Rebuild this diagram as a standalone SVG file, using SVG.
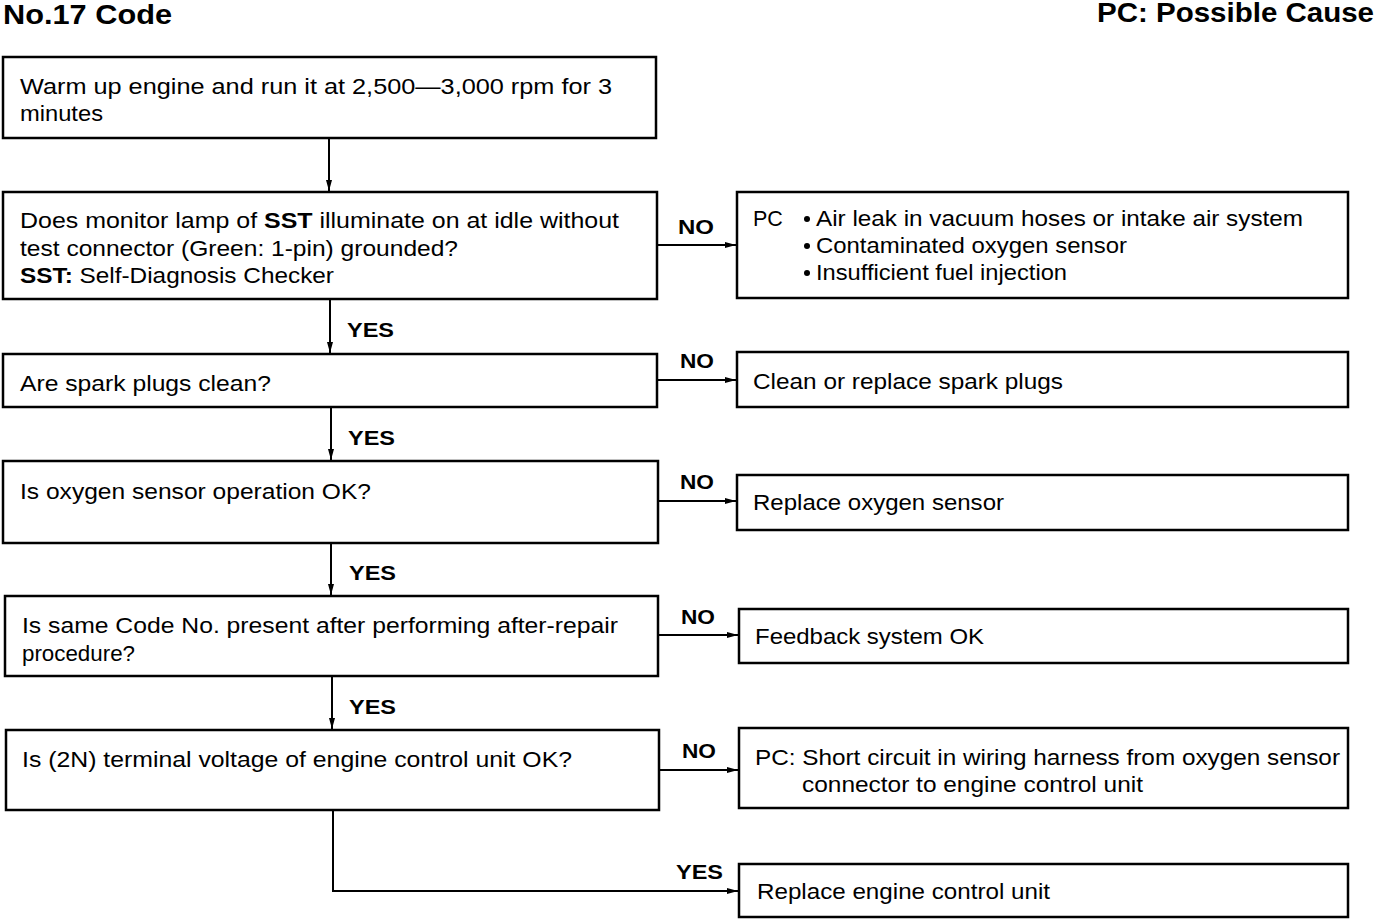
<svg xmlns="http://www.w3.org/2000/svg" width="1392" height="920" viewBox="0 0 1392 920">
<style>
.t{font-family:"Liberation Sans",Arial,sans-serif;font-size:21.5px;fill:#000}
.b{font-weight:bold}
.lbl{font-family:"Liberation Sans",Arial,sans-serif;font-size:21px;font-weight:bold;fill:#000}
.ttl{font-family:"Liberation Sans",Arial,sans-serif;font-size:27px;font-weight:bold;fill:#000}
.box{fill:#fff;stroke:#000;stroke-width:2.5}
.ln{fill:none;stroke:#000;stroke-width:2}
</style>
<defs>
<marker id="ah" markerWidth="12" markerHeight="8" refX="11" refY="4" orient="auto" markerUnits="userSpaceOnUse">
<path d="M0,1 L11,4 L0,7 Z" fill="#000"/>
</marker>
</defs>
<rect width="1392" height="920" fill="#fff"/>
<text class="ttl" x="3" y="24" textLength="169" lengthAdjust="spacingAndGlyphs">No.17 Code</text>
<text class="ttl" x="1097" y="22" textLength="277" lengthAdjust="spacingAndGlyphs">PC: Possible Cause</text>

<g id="connectors">
<path class="ln" d="M329,138 V191" marker-end="url(#ah)"/>
<path class="ln" d="M330,299 V353" marker-end="url(#ah)"/>
<path class="ln" d="M331,407 V460" marker-end="url(#ah)"/>
<path class="ln" d="M331,543 V595" marker-end="url(#ah)"/>
<path class="ln" d="M332,676 V729" marker-end="url(#ah)"/>
<path class="ln" d="M333,810 V891 H738" marker-end="url(#ah)"/>
<path class="ln" d="M657,245 H736" marker-end="url(#ah)"/>
<path class="ln" d="M657,380 H736" marker-end="url(#ah)"/>
<path class="ln" d="M658,501 H736" marker-end="url(#ah)"/>
<path class="ln" d="M658,635 H738" marker-end="url(#ah)"/>
<path class="ln" d="M659,770 H738" marker-end="url(#ah)"/>
<text class="lbl" x="678" y="234" textLength="36" lengthAdjust="spacingAndGlyphs">NO</text>
<text class="lbl" x="680" y="368" textLength="34" lengthAdjust="spacingAndGlyphs">NO</text>
<text class="lbl" x="680" y="489" textLength="34" lengthAdjust="spacingAndGlyphs">NO</text>
<text class="lbl" x="681" y="624" textLength="34" lengthAdjust="spacingAndGlyphs">NO</text>
<text class="lbl" x="682" y="758" textLength="34" lengthAdjust="spacingAndGlyphs">NO</text>
<text class="lbl" x="347" y="337" textLength="47" lengthAdjust="spacingAndGlyphs">YES</text>
<text class="lbl" x="348" y="445" textLength="47" lengthAdjust="spacingAndGlyphs">YES</text>
<text class="lbl" x="349" y="580" textLength="47" lengthAdjust="spacingAndGlyphs">YES</text>
<text class="lbl" x="349" y="714" textLength="47" lengthAdjust="spacingAndGlyphs">YES</text>
<text class="lbl" x="676" y="879" textLength="47" lengthAdjust="spacingAndGlyphs">YES</text>
</g>

<g id="n1">
<rect class="box" x="3" y="57" width="653" height="81"/>
<text class="t" x="20" y="94" textLength="592" lengthAdjust="spacingAndGlyphs">Warm up engine and run it at 2,500—3,000 rpm for 3</text>
<text class="t" x="20" y="121" textLength="83" lengthAdjust="spacingAndGlyphs">minutes</text>
</g>
<g id="n2">
<rect class="box" x="3" y="192" width="654" height="107"/>
<text class="t" x="20" y="228" textLength="599" lengthAdjust="spacingAndGlyphs">Does monitor lamp of <tspan class="b">SST</tspan> illuminate on at idle without</text>
<text class="t" x="20" y="256" textLength="438" lengthAdjust="spacingAndGlyphs">test connector (Green: 1-pin) grounded?</text>
<text class="t" x="20" y="283" textLength="314" lengthAdjust="spacingAndGlyphs"><tspan class="b">SST:</tspan> Self-Diagnosis Checker</text>
</g>
<g id="pc1">
<rect class="box" x="737" y="192" width="611" height="106"/>
<text class="t" x="753" y="226">PC</text>
<circle cx="807" cy="219" r="3"/>
<circle cx="807" cy="246" r="3"/>
<circle cx="807" cy="273" r="3"/>
<text class="t" x="816" y="226" textLength="487" lengthAdjust="spacingAndGlyphs">Air leak in vacuum hoses or intake air system</text>
<text class="t" x="816" y="253" textLength="311" lengthAdjust="spacingAndGlyphs">Contaminated oxygen sensor</text>
<text class="t" x="816" y="280" textLength="251" lengthAdjust="spacingAndGlyphs">Insufficient fuel injection</text>
</g>
<g id="n3">
<rect class="box" x="3" y="354" width="654" height="53"/>
<text class="t" x="20" y="391" textLength="251" lengthAdjust="spacingAndGlyphs">Are spark plugs clean?</text>
</g>
<g id="r3">
<rect class="box" x="737" y="352" width="611" height="55"/>
<text class="t" x="753" y="389" textLength="310" lengthAdjust="spacingAndGlyphs">Clean or replace spark plugs</text>
</g>
<g id="n4">
<rect class="box" x="3" y="461" width="655" height="82"/>
<text class="t" x="20" y="499" textLength="351" lengthAdjust="spacingAndGlyphs">Is oxygen sensor operation OK?</text>
</g>
<g id="r4">
<rect class="box" x="737" y="475" width="611" height="55"/>
<text class="t" x="753" y="510" textLength="251" lengthAdjust="spacingAndGlyphs">Replace oxygen sensor</text>
</g>
<g id="n5">
<rect class="box" x="5" y="596" width="653" height="80"/>
<text class="t" x="22" y="633" textLength="596" lengthAdjust="spacingAndGlyphs">Is same Code No. present after performing after-repair</text>
<text class="t" x="22" y="661" textLength="113" lengthAdjust="spacingAndGlyphs">procedure?</text>
</g>
<g id="r5">
<rect class="box" x="739" y="609" width="609" height="54"/>
<text class="t" x="755" y="644" textLength="229" lengthAdjust="spacingAndGlyphs">Feedback system OK</text>
</g>
<g id="n6">
<rect class="box" x="6" y="730" width="653" height="80"/>
<text class="t" x="22" y="767" textLength="550" lengthAdjust="spacingAndGlyphs">Is (2N) terminal voltage of engine control unit OK?</text>
</g>
<g id="pc6">
<rect class="box" x="739" y="728" width="609" height="80"/>
<text class="t" x="755" y="765" textLength="585" lengthAdjust="spacingAndGlyphs">PC: Short circuit in wiring harness from oxygen sensor</text>
<text class="t" x="802" y="792" textLength="341" lengthAdjust="spacingAndGlyphs">connector to engine control unit</text>
</g>
<g id="r7">
<rect class="box" x="739" y="864" width="609" height="53"/>
<text class="t" x="757" y="899" textLength="293" lengthAdjust="spacingAndGlyphs">Replace engine control unit</text>
</g>
</svg>
